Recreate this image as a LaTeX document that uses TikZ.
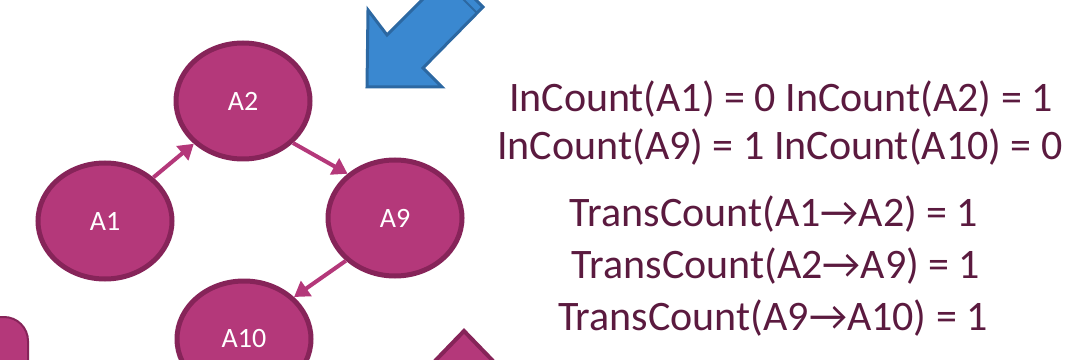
\documentclass[tikz,border=0pt]{standalone}
\usepackage{fontspec}
\setmainfont{Carlito}
\usetikzlibrary{shapes.geometric,arrows.meta}
\definecolor{nodefill}{HTML}{B4387A}
\definecolor{nodeline}{HTML}{862459}
\definecolor{countink}{HTML}{5B1A3F}
\definecolor{bluefill}{HTML}{3A88D0}
\definecolor{blueline}{HTML}{2C68A2}
\begin{document}
\begin{tikzpicture}[x=1pt,y=1pt,
            state/.style={ellipse,draw=nodeline,fill=nodefill,line width=5pt,
                minimum width=134pt,minimum height=116pt,inner sep=0pt,
                text=white,font=\fontsize{28}{32}\selectfont},
            trans/.style={draw=nodefill,line width=4pt,
                -{Triangle[length=15pt,width=18pt]}},
            count/.style={anchor=base,inner sep=0pt,text=countink,
                font=\fontsize{42}{48}\selectfont}]
            \useasboundingbox (0,0) rectangle (1075,359);
            \clip (0,0) rectangle (1075,359);
            % big arrows cut by the frame
            \draw[fill=bluefill,draw=blueline,line width=3pt,line join=miter]
                (367,272) -- (368,349) -- (387,324) -- (449,386)
                -- (483,352) -- (423,291) -- (442,272) -- cycle;
            \draw[blueline,line width=2pt] (443,380) -- (477,346);
            \draw[fill=nodefill,draw=nodeline,line width=4pt]
                (435,-2) -- (464,28) -- (493,-2);
            \draw[fill=nodefill,draw=nodeline,line width=2pt,rounded corners=24pt]
                (-40,-40) rectangle (28,42);
            % states
            \node[state] (a2) at (243,258) {A2};
            \node[state] (a1) at (105,138) {A1};
            \node[state] (a9) at (395,141) {A9};
            \node[state] (a10) at (244,20) {A10};
            \draw[trans] (a1.42) -- (a2.221);
            \draw[trans] (a2.-40) -- (a9.137);
            \draw[trans] (a9.221) -- (a10.40);
            % counts
            \node[count] (in1) at (781,247) {InCount(A1) = 0 InCount(A2) = 1};
            \node[count] (in2) at (780,199) {InCount(A9) = 1 InCount(A10) = 0};
            \node[count] (tr1) at (774,132) {TransCount(A1→A2) = 1};
            \node[count] (tr2) at (776,81) {TransCount(A2→A9) = 1};
            \node[count] (tr3) at (773,29) {TransCount(A9→A10) = 1};
        \end{tikzpicture}
\end{document}
